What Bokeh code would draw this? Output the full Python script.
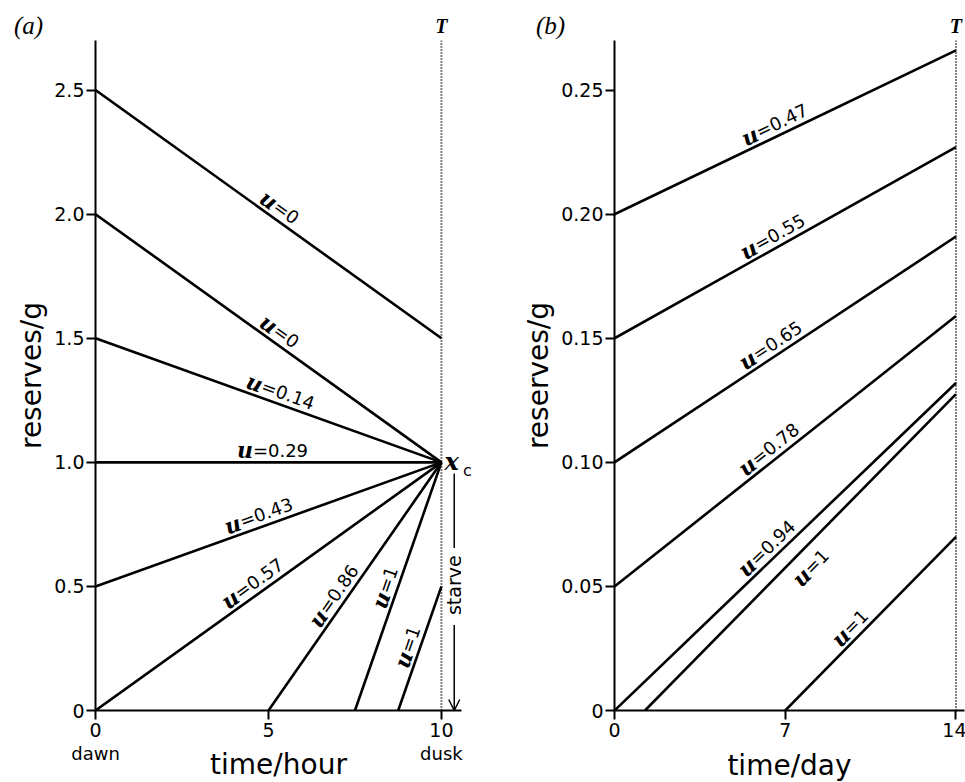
import math

from bokeh.core.properties import value
from bokeh.embed import file_html
from bokeh.layouts import row
from bokeh.models import (Arrow, ColumnDataSource, FixedTicker, Label, LinearAxis,
                          OpenHead, Range1d, Span)
from bokeh.plotting import figure
from bokeh.resources import INLINE

# ---------------- panel (a): one day, time in hours ----------------
A_TICKS_X = [0, 5, 10]
A_TICK_LABELS_X = ["0", "5", "10"]
A_DAY_TICKS = [0, 10]
A_DAY_LABELS = ["dawn", "dusk"]
A_TICKS_Y = [0, 0.5, 1.0, 1.5, 2.0, 2.5]
A_TICK_LABELS_Y = ["0", "0.5", "1.0", "1.5", "2.0", "2.5"]
A_DUSK = 10          # T, end of the day
A_XC = 1.0           # critical reserve level x_c at dusk
A_START_T = [0, 0, 0, 0, 0, 0, 5, 7.5, 8.75]
A_START_X = [2.5, 2.0, 1.5, 1.0, 0.5, 0.0, 0.0, 0.0, 0.0]
A_END_X = [1.5, 1.0, 1.0, 1.0, 1.0, 1.0, 1.0, 1.0, 0.5]
A_U = ["0", "0", "0.14", "0.29", "0.43", "0.57", "0.86", "1", "1"]
A_LABEL_T = [5.0, 5.0, 4.7, 4.55, 4.3, 4.28, 6.85, 8.65, 9.3]
A_LABEL_SIDE = [1, 1, 1, 1, 1, 1, 1, 1, 1]

# ---------------- panel (b): whole season, time in days ----------------
B_TICKS_X = [0, 7, 14]
B_TICK_LABELS_X = ["0", "7", "14"]
B_TICKS_Y = [0, 0.05, 0.10, 0.15, 0.20, 0.25]
B_TICK_LABELS_Y = ["0", "0.05", "0.10", "0.15", "0.20", "0.25"]
B_END = 14
B_START_T = [0, 0, 0, 0, 0, 1.25, 7]
B_START_X = [0.20, 0.15, 0.10, 0.05, 0.0, 0.0, 0.0]
B_END_X = [0.266, 0.227, 0.191, 0.159, 0.132, 0.1275, 0.07]
B_U = ["0.47", "0.55", "0.65", "0.78", "0.94", "1", "1"]
B_LABEL_T = [6.05, 6.02, 6.0, 6.0, 6.0, 7.37, 9.85]
B_LABEL_SIDE = [1, 1, 1, 1, 1, -1, 1]

# starvation arrow in panel (a)
STARVE_T = 10.37
STARVE_TOP, STARVE_GAP_HI, STARVE_GAP_LO, STARVE_MID = 0.955, 0.655, 0.345, 0.505

# frame geometry (pixels) and axis extents
FRAME_H = 670
A_FRAME_W, A_X_END, A_Y_END = 366, 10.58, 2.70
B_FRAME_W, B_X_END, B_Y_END = 350, 14.35, 0.270

SANS = "DejaVu Sans"
SERIF = "DejaVu Serif"
TIMES = "Liberation Serif"


def style_axis(ax):
    ax.axis_line_width = 2
    ax.axis_line_color = "black"
    ax.major_tick_line_width = 2
    ax.major_tick_line_color = "black"
    ax.major_tick_out = 9
    ax.major_tick_in = 0
    ax.minor_tick_line_color = None
    ax.major_label_text_font = SANS
    ax.major_label_text_font_size = "19px"
    ax.major_label_text_color = "black"
    ax.axis_label_text_font = SANS
    ax.axis_label_text_font_size = "28px"
    ax.axis_label_text_font_style = "normal"
    ax.axis_label_text_color = "black"


def make_panel(frame_w, x_end, y_end, border_l, border_r, xticks, xlabels,
               yticks, ylabels, xlabel, t_end, t0, x0, x1, us, label_t,
               label_side):
    p = figure(frame_width=frame_w, frame_height=FRAME_H,
               x_range=Range1d(0, x_end), y_range=Range1d(0, y_end),
               min_border_left=border_l, min_border_right=border_r,
               min_border_top=40, min_border_bottom=72,
               output_backend="svg", toolbar_location=None,
               background_fill_color="white", border_fill_color="white")
    p.outline_line_color = None
    p.grid.visible = False

    p.xaxis.ticker = FixedTicker(ticks=xticks)
    p.xaxis.major_label_overrides = dict(zip(xticks, xlabels))
    p.yaxis.ticker = FixedTicker(ticks=yticks)
    p.yaxis.major_label_overrides = dict(zip(yticks, ylabels))
    p.xaxis.axis_label = xlabel
    p.yaxis.axis_label = "reserves/g"
    style_axis(p.xaxis[0])
    style_axis(p.yaxis[0])
    p.xaxis.major_label_standoff = 3
    p.xaxis.axis_label_standoff = 9
    p.yaxis.major_label_standoff = 2
    p.yaxis.axis_label_standoff = 3

    # dotted line marking the end of the period T
    p.add_layout(Span(location=t_end, dimension="height", line_color="black",
                      line_width=2, line_dash="1 2"))

    n = len(t0)
    src = ColumnDataSource(dict(t0=t0, x0=x0, t1=[t_end] * n, x1=x1))
    p.segment("t0", "x0", "t1", "x1", source=src, line_color="black",
              line_width=2.6)

    # u labels laid along each trajectory
    sx = frame_w / x_end
    sy = FRAME_H / y_end
    lx, ly, ang, utxt, vtxt = [], [], [], [], []
    for a, b, c, u, lt, side in zip(t0, x0, x1, us, label_t, label_side):
        slope = (c - b) / (t_end - a)
        th = math.atan(slope * sy / sx)
        d = 12 if side > 0 else -18
        yy = b + slope * (lt - a)
        lx.append(lt - d * math.sin(th) / sx)
        ly.append(yy + d * math.cos(th) / sy)
        ang.append(th)
        utxt.append("u")
        vtxt.append("=" + u)
    lsrc = ColumnDataSource(dict(x=lx, y=ly, angle=ang, u=utxt, v=vtxt))
    p.text(x="x", y="y", text="u", angle="angle", source=lsrc,
           text_align="right", text_baseline="alphabetic",
           text_font=value(SERIF), text_font_style="bold italic",
           text_font_size="22px", text_color="black")
    p.text(x="x", y="y", text="v", angle="angle", source=lsrc,
           text_align="left", text_baseline="alphabetic",
           text_font=value(SANS), text_font_size="18px", text_color="black")
    return p


def margin_label(x, y, dx, dy, text, font, size, style="normal", align="center"):
    # labels in a side panel are drawn without clipping to the frame
    return Label(x=x, y=y, x_offset=dx, y_offset=dy, text=text, text_align=align,
                 text_baseline="middle", text_font=font, text_font_size=size,
                 text_font_style=style, text_color="black")


pa = make_panel(A_FRAME_W, A_X_END, A_Y_END, 94, 20, A_TICKS_X, A_TICK_LABELS_X,
                A_TICKS_Y, A_TICK_LABELS_Y, "time/hour", A_DUSK, A_START_T,
                A_START_X, A_END_X, A_U, A_LABEL_T, A_LABEL_SIDE)
pb = make_panel(B_FRAME_W, B_X_END, B_Y_END, 133, 2, B_TICKS_X, B_TICK_LABELS_X,
                B_TICKS_Y, B_TICK_LABELS_Y, "time/day", B_END, B_START_T,
                B_START_X, B_END_X, B_U, B_LABEL_T, B_LABEL_SIDE)

# dawn / dusk on a bare second axis under the hour axis; it carries the title
pa.xaxis[0].axis_label = None
day_axis = LinearAxis(ticker=FixedTicker(ticks=A_DAY_TICKS),
                      major_label_overrides=dict(zip(A_DAY_TICKS, A_DAY_LABELS)),
                      axis_label="time/hour")
style_axis(day_axis)
day_axis.axis_line_color = None
day_axis.major_tick_line_color = None
day_axis.major_tick_out = 0
day_axis.major_label_standoff = 3
day_axis.major_label_text_font_size = "18px"
day_axis.axis_label_standoff = -19
pa.add_layout(day_axis, "below")

# panel tags and T marks above the frames
pa.add_layout(margin_label(0, A_Y_END, -67, 15, "(a)", TIMES, "25px", "italic"), "above")
pa.add_layout(margin_label(A_DUSK, A_Y_END, 0, 15, "T", TIMES, "20px", "bold italic"), "left")
pb.add_layout(margin_label(B_END, B_Y_END, 0, 15, "T", TIMES, "20px", "bold italic"), "above")
pb.add_layout(margin_label(0, B_Y_END, -64, 15, "(b)", TIMES, "25px", "italic"), "left")

# critical level x_c at dusk
pa.add_layout(Label(x=A_DUSK, y=A_XC, x_offset=3, y_offset=1, text="x",
                    text_align="left", text_baseline="middle", text_font=SERIF,
                    text_font_style="bold italic", text_font_size="24px",
                    text_color="black"))
pa.add_layout(margin_label(A_DUSK, A_XC, 26, -8, "c", SANS, "16px"), "right")

# starve arrow below x_c
pa.segment(x0=[STARVE_T], y0=[STARVE_TOP], x1=[STARVE_T], y1=[STARVE_GAP_HI],
           line_color="black", line_width=1.5)
pa.add_layout(Arrow(end=OpenHead(size=11, line_width=1.5, line_color="black"),
                    x_start=STARVE_T, y_start=STARVE_GAP_LO, x_end=STARVE_T,
                    y_end=0, line_width=1.5, line_color="black"))
pa.add_layout(Label(x=STARVE_T, y=STARVE_MID, angle=math.pi / 2, text="starve",
                    text_align="center", text_baseline="middle", text_font=SANS,
                    text_font_size="19px", text_color="black"))

layout = row(pa, pb)
open("out.html", "w").write(file_html(layout, INLINE))
